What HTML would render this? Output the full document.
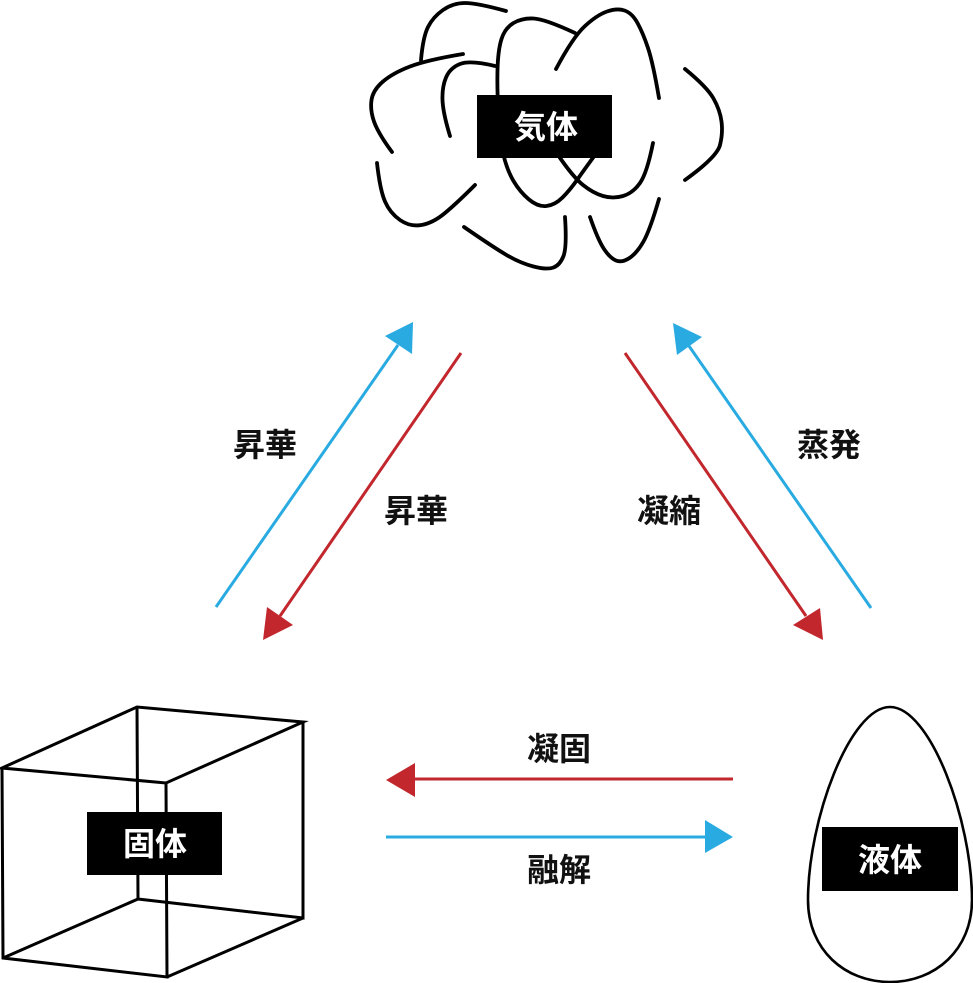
<!DOCTYPE html>
<html>
<head>
<meta charset="utf-8">
<style>
html,body{margin:0;padding:0;background:#fff;}
svg{display:block;}
.lbl{font-family:"Liberation Sans","Noto Sans CJK JP",sans-serif;font-size:32px;font-weight:bold;fill:#111;}
.box{font-family:"Liberation Sans","Noto Sans CJK JP",sans-serif;font-size:32px;font-weight:bold;fill:#fff;}
</style>
</head>
<body>
<svg width="973" height="983" viewBox="0 0 973 983" xmlns="http://www.w3.org/2000/svg">
  <!-- Cloud -->
  <g fill="none" stroke="#000" stroke-width="3.8" stroke-linecap="round">
    <path d="M421,60 Q423,37 428,27 Q433,17 443,10 Q453,3 465,3 Q477,3 506,11"/>
    <path d="M463,54 Q427,60 410,66.5 Q393,73 383,81.5 Q373,90 371.5,100 Q370,110 374,121.5 Q378,133 392,152"/>
    <path d="M495,66 Q470,60 460,64 Q450,68 446,77.5 Q442,87 442.5,100 Q443,113 450,136"/>
    <path d="M575,33 Q545,19 533.5,18.5 Q522,18 513.5,23 Q505,28 501.5,39 Q498,50 497.5,70 Q497,90 498.5,115 Q500,140 503.5,155 Q507,170 513.5,181 Q520,192 529,199.5 Q538,207 546.5,206 Q555,205 562.5,197.5 Q570,190 577,180 Q584,170 595,155"/>
    <path d="M556,69 Q573,37 585,26 Q597,15 607,11.5 Q617,8 624.5,10.5 Q632,13 637.5,23 Q643,33 648,48 Q653,63 659,98"/>
    <path d="M653,143 Q647,173 640,183 Q633,193 623,196 Q613,199 603,196 Q593,193 583,185 Q573,177 558,155"/>
    <path d="M685,69 Q707,87 713.5,98.5 Q720,110 721.5,121.5 Q723,133 720,145 Q717,157 685,180"/>
    <path d="M377,163 Q380,190 385,201.5 Q390,213 400,220 Q410,227 421.5,225 Q433,223 445,213 Q457,203 475,185"/>
    <path d="M464,227 Q493,247 506.5,255 Q520,263 533.5,266.5 Q547,270 553.5,267.5 Q560,265 563.5,256 Q567,247 565,217"/>
    <path d="M590,217 Q598,240 604,249 Q610,258 616,260.5 Q622,263 629.5,258 Q637,253 643.5,241.5 Q650,230 659,199"/>
  </g>
  <rect x="477" y="95" width="135" height="63" fill="#000"/>
  <text class="box" x="546" y="127" text-anchor="middle" dominant-baseline="central">気体</text>

  <!-- Cube -->
  <g fill="none" stroke="#000" stroke-width="3" stroke-linejoin="miter">
    <path d="M2,768 L137,707 L303,722 L166,783 Z"/>
    <path d="M2,768 L3,958 L167,977 L166,783"/>
    <path d="M137,707 L138,899 L303,918 L303,722"/>
    <path d="M138,899 L3,958"/>
    <path d="M303,918 L167,977"/>
  </g>
  <rect x="87" y="812" width="135" height="63" fill="#000"/>
  <text class="box" x="155" y="844" text-anchor="middle" dominant-baseline="central">固体</text>

  <!-- Egg -->
  <path d="M890,707 C930,707 972,820 972,900 C972,950 935,982 890,982 C845,982 808,950 808,900 C808,820 850,707 890,707 Z" fill="none" stroke="#000" stroke-width="2.6"/>
  <rect x="822" y="827" width="136" height="64" fill="#000"/>
  <text class="box" x="890" y="860" text-anchor="middle" dominant-baseline="central">液体</text>

  <!-- Arrows -->
  <g stroke-width="3" fill="none">
    <line x1="216" y1="607" x2="398" y2="345" stroke="#29abe2"/>
    <line x1="461" y1="353" x2="280" y2="616" stroke="#c1272d"/>
    <line x1="625" y1="353" x2="806" y2="616" stroke="#c1272d"/>
    <line x1="871" y1="608" x2="689" y2="346" stroke="#29abe2"/>
    <line x1="733" y1="779" x2="412" y2="779" stroke="#c1272d"/>
    <line x1="386" y1="837" x2="708" y2="837" stroke="#29abe2"/>
  </g>
  <polygon points="413,322 385,336 412,354" fill="#29abe2"/>
  <polygon points="263,640 267,607 293,625" fill="#c1272d"/>
  <polygon points="823,640 793,625 820,608" fill="#c1272d"/>
  <polygon points="673,323 702,337 677,355" fill="#29abe2"/>
  <polygon points="386,780 415,763 415,797" fill="#c1272d"/>
  <polygon points="733,837 705,820 705,853" fill="#29abe2"/>

  <!-- Labels -->
  <text class="lbl" x="265" y="445" text-anchor="middle" dominant-baseline="central">昇華</text>
  <text class="lbl" x="416" y="511" text-anchor="middle" dominant-baseline="central">昇華</text>
  <text class="lbl" x="829" y="445" text-anchor="middle" dominant-baseline="central">蒸発</text>
  <text class="lbl" x="669" y="511" text-anchor="middle" dominant-baseline="central">凝縮</text>
  <text class="lbl" x="559" y="749" text-anchor="middle" dominant-baseline="central">凝固</text>
  <text class="lbl" x="559" y="870" text-anchor="middle" dominant-baseline="central">融解</text>
</svg>
</body>
</html>
